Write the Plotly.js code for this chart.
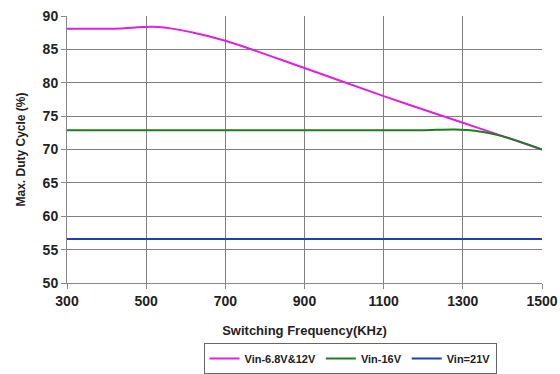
<!DOCTYPE html>
<html><head><meta charset="utf-8">
<script src="https://cdn.plot.ly/plotly-3.0.1.min.js"></script>
<style>html,body{margin:0;padding:0;background:#fff}#c{width:560px;height:374px}</style>
</head><body><div id="c"></div>
<script>
const freqA = [300, 420, 530, 620, 700, 900, 1100, 1300, 1380, 1500];
const dutyA = [88.1, 88.1, 88.35, 87.5, 86.3, 82.2, 78.0, 74.0, 72.4, 70.0];
const freqB = [300, 500, 700, 900, 1100, 1200, 1280, 1330, 1400, 1500];
const dutyB = [72.9, 72.9, 72.9, 72.9, 72.9, 72.9, 73.0, 72.8, 72.0, 70.0];
const freqC = [300, 1500];
const dutyC = [56.6, 56.6];
const names = ["Vin-6.8V&12V", "Vin-16V", "Vin=21V"];
const xTicks = [300, 500, 700, 900, 1100, 1300, 1500];
const yTicks = [50, 55, 60, 65, 70, 75, 80, 85, 90];

const fam = "Liberation Sans, Arial, sans-serif";
const data = [
  {x: freqA, y: dutyA, name: names[0], mode: "lines", line: {color: "#e020e0", width: 2, shape: "spline", smoothing: 1}},
  {x: freqB, y: dutyB, name: names[1], mode: "lines", line: {color: "#1e7d1e", width: 2, shape: "spline", smoothing: 0.8}},
  {x: freqC, y: dutyC, name: names[2], mode: "lines", line: {color: "#2040b0", width: 2}}
];
const layout = {
  width: 560, height: 374,
  margin: {l: 67, r: 18, t: 16, b: 91},
  paper_bgcolor: "#fff", plot_bgcolor: "#fff",
  font: {family: fam, size: 13, color: "#222"},
  showlegend: true,
  legend: {orientation: "h", x: 0.625, xref: "container", xanchor: "center", y: 0.0, yref: "container", yanchor: "bottom",
    bordercolor: "#666", borderwidth: 1, font: {family: fam, size: 11, color: "#222", weight: "bold"},
    itemwidth: 30, tracegroupgap: 0},
  xaxis: {range: [300, 1500], tickvals: xTicks, ticktext: xTicks.map(String), automargin: false,
    showgrid: true, gridcolor: "#808080", gridwidth: 1,
    showline: true, linecolor: "#888", linewidth: 1, ticks: "outside", ticklen: 5, tickcolor: "#888",
    tickfont: {family: fam, size: 14, color: "#222", weight: "bold"},
    title: {text: "Switching Frequency(KHz)", font: {family: fam, size: 13, color: "#222", weight: "bold"}, standoff: 18},
    zeroline: false, fixedrange: true},
  yaxis: {range: [50, 90], tickvals: yTicks, ticktext: yTicks.map(String), automargin: false,
    showgrid: true, gridcolor: "#808080", gridwidth: 1,
    showline: true, linecolor: "#888", linewidth: 1, ticks: "outside", ticklen: 5, tickcolor: "#888",
    tickfont: {family: fam, size: 14, color: "#222", weight: "bold"},
    title: {text: "Max. Duty Cycle (%)", font: {family: fam, size: 12, color: "#222", weight: "bold"}, standoff: 14},
    zeroline: false, fixedrange: true}
};
Plotly.newPlot("c", data, layout, {displayModeBar: false, staticPlot: true});
</script></body></html>
